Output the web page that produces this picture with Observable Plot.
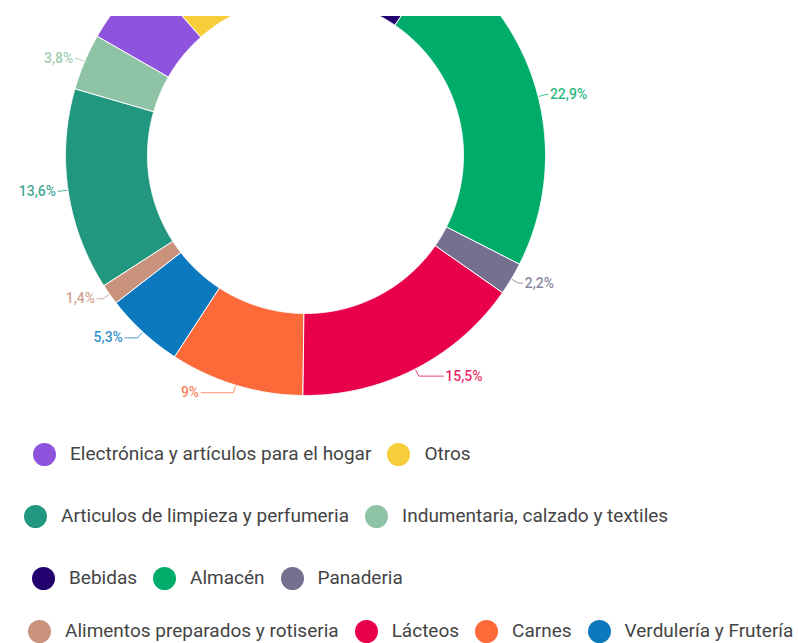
<!DOCTYPE html>
<html><head><meta charset="utf-8">
<script src="https://cdn.jsdelivr.net/npm/d3@7"></script>
<script src="https://cdn.jsdelivr.net/npm/@observablehq/plot@0.6"></script>
<style>
body{margin:0;background:#fff;font-family:Roboto,sans-serif;}
#wrap{position:relative;width:798px;height:643px;overflow:hidden;background:#fff;}
#chart{position:absolute;left:0;top:16px;width:798px;height:400px;overflow:hidden;}
.row{position:absolute;display:flex;align-items:center;height:26px;white-space:nowrap;}
.item{display:flex;align-items:center;margin-right:16px;}
.dot{width:23px;height:23px;border-radius:50%;margin-right:14px;flex:none;}
.txt{font-size:19px;font-weight:400;color:#444;font-family:Roboto,sans-serif;line-height:22px;}
</style></head><body><div id="wrap"><div id="chart"></div><div id="legend"></div></div>
<script>
const categories = ["Bebidas","Almacén","Panaderia","Lácteos","Carnes","Verdulería y Frutería","Alimentos preparados y rotiseria","Articulos de limpieza y perfumeria","Indumentaria, calzado y textiles","Electrónica y artículos para el hogar","Otros"];
const shares = [9.6, 22.9, 2.2, 15.5, 9, 5.3, 1.4, 13.6, 3.8, 5.2, 11.5];
const shareLabels = ["9,6%","22,9%","2,2%","15,5%","9%","5,3%","1,4%","13,6%","3,8%","5,2%","11,5%"];
const colors = ["#22006E","#00AC69","#75708F","#E8004B","#FD6A39","#0C79BF","#C8927D","#22977F","#8FC3A6","#8E54DD","#F8CD3A"];
const legendRows = [
  ["Electrónica y artículos para el hogar","Otros"],
  ["Articulos de limpieza y perfumeria","Indumentaria, calzado y textiles"],
  ["Bebidas","Almacén","Panaderia"],
  ["Alimentos preparados y rotiseria","Lácteos","Carnes","Verdulería y Frutería"]
];

// layout
const W = 798, H = 400, CX = 305, CY = 139, R = 240, R0 = 158;
const rowTop = [441, 503, 565, 618], rowLeft = [33, 24, 32, 28];

const total = d3.sum(shares);
const cum = d3.cumsum(shares);
const slices = categories.map((cat, i) => {
  const a1 = cum[i] / total * 2 * Math.PI;
  const a0 = (cum[i] - shares[i]) / total * 2 * Math.PI;
  return {cat, a0, a1, label: shareLabels[i]};
});

// ring polygons
const ringPts = [];
for (const s of slices) {
  const n = Math.max(2, Math.ceil((s.a1 - s.a0) / 0.004));
  const outer = [], inner = [];
  for (let k = 0; k <= n; k++) {
    const t = s.a0 + (s.a1 - s.a0) * k / n;
    outer.push({cat: s.cat, x: R * Math.sin(t), y: -R * Math.cos(t)});
    inner.push({cat: s.cat, x: R0 * Math.sin(t), y: -R0 * Math.cos(t)});
  }
  ringPts.push(...outer, ...inner.reverse());
}

// labels + leaders (only those inside the visible frame)
const labelPts = [], leaderPts = [];
for (const s of slices) {
  const m = (s.a0 + s.a1) / 2;
  const sn = Math.sin(m), cs = Math.cos(m);
  const side = sn >= 0 ? 1 : -1;
  const extra = cs < 0 ? 36 * Math.pow(-cs, 4) : 0;
  const p0 = {x: (R + 1) * sn, y: -(R + 1) * cs};
  const p1 = {x: (R + 8) * sn, y: -(R + 8) * cs};
  const p2 = {x: p1.x + side * (2 + extra), y: p1.y};
  if (p2.y < -CY + 10) continue;
  leaderPts.push({cat: s.cat, ...p0}, {cat: s.cat, ...p1}, {cat: s.cat, ...p2});
  labelPts.push({cat: s.cat, label: s.label, side, x: p2.x + side * 2, y: p2.y});
}

const chart = Plot.plot({
  width: W, height: H,
  margin: 0,
  style: {overflow: "hidden", background: "white"},
  x: {domain: [-CX, W - CX], range: [0, W], axis: null},
  y: {domain: [-CY, H - CY], range: [0, H], axis: null},
  color: {domain: categories, range: colors},
  marks: [
    Plot.line(ringPts, {x: "x", y: "y", z: "cat", fill: "cat", stroke: "white", strokeWidth: 1, curve: "linear-closed"}),
    Plot.line(leaderPts, {x: "x", y: "y", z: "cat", stroke: "cat", strokeWidth: 1, strokeOpacity: 0.75}),
    Plot.text(labelPts.filter(d => d.side > 0), {x: "x", y: "y", text: "label", fill: "cat", textAnchor: "start", fontSize: 14, fontWeight: 500, fontFamily: "Roboto", fillOpacity: 0.85}),
    Plot.text(labelPts.filter(d => d.side < 0), {x: "x", y: "y", text: "label", fill: "cat", textAnchor: "end", fontSize: 14, fontWeight: 500, fontFamily: "Roboto", fillOpacity: 0.85})
  ]
});
document.getElementById("chart").appendChild(chart);

const legend = document.getElementById("legend");
legendRows.forEach((row, r) => {
  const div = document.createElement("div");
  div.className = "row";
  div.style.top = rowTop[r] + "px";
  div.style.left = rowLeft[r] + "px";
  for (const cat of row) {
    const it = document.createElement("div");
    it.className = "item";
    const dot = document.createElement("span");
    dot.className = "dot";
    dot.style.background = colors[categories.indexOf(cat)];
    const tx = document.createElement("span");
    tx.className = "txt";
    tx.textContent = cat;
    it.appendChild(dot); it.appendChild(tx);
    div.appendChild(it);
  }
  legend.appendChild(div);
});
</script></body></html>
